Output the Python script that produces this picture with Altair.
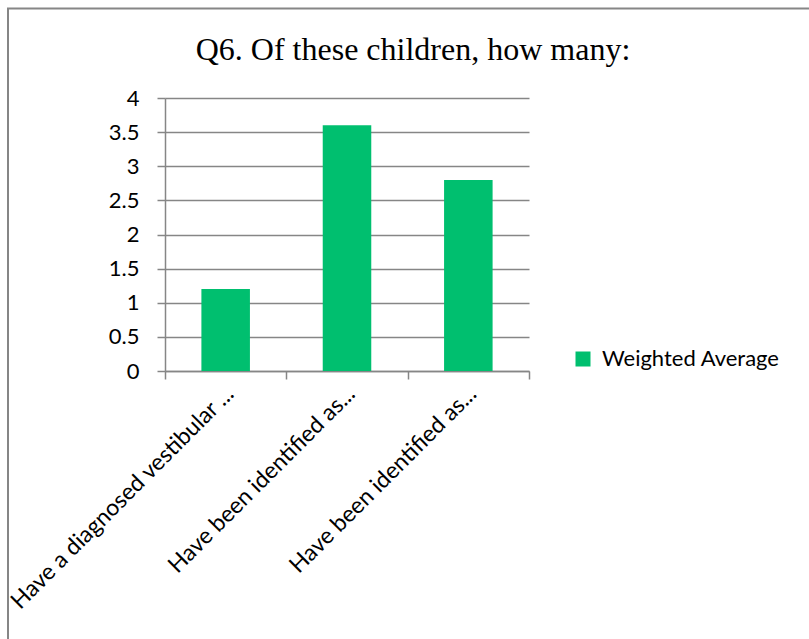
import json

import altair as alt
import pandas as pd

# Survey item labels (two items share the same truncated label)
items = [
    "Have a diagnosed vestibular ...",
    "Have been identified as...",
    "Have been identified as...",
]
weighted_avg = [1.2, 3.6, 2.8]
series_name = "Weighted Average"
y_ticks = [0, 0.5, 1, 1.5, 2, 2.5, 3, 3.5, 4]
title_text = "Q6. Of these children, how many:"

df = pd.DataFrame(
    {
        "idx": list(range(len(items))),
        "value": weighted_avg,
        "series": [series_name] * len(items),
    }
)

# Ordinal positions are labelled by looking up the item text
label_expr = json.dumps(items) + "[datum.value]"

GREEN = "#00BF6F"
GRID = "#868686"
SANS = "Lato"
SERIF = "Liberation Serif"

W, H = 364, 273
LEFT, TOP = 165, 98
TOTAL_W, TOTAL_H = 809, 639

bars = (
    alt.Chart(df)
    .mark_bar(width=alt.RelativeBandSize(0.4))
    .encode(
        x=alt.X(
            "idx:O",
            title=None,
            scale=alt.Scale(paddingInner=0, paddingOuter=0),
            axis=alt.Axis(
                labelExpr=label_expr,
                labelAngle=-45,
                labelAlign="right",
                labelBaseline="middle",
                labelFont=SANS,
                labelFontSize=23,
                labelColor="black",
                labelPadding=11,
                labelOffset=4,
                labelLimit=500,
                tickBand="extent",
                tickSize=8,
                tickColor=GRID,
                tickWidth=1.5,
                domainColor=GRID,
                domainWidth=1.5,
            ),
        ),
        y=alt.Y(
            "value:Q",
            title=None,
            scale=alt.Scale(domain=[0, 4], nice=False),
            axis=alt.Axis(
                values=y_ticks,
                format="~g",
                labelFont=SANS,
                labelFontSize=22,
                labelColor="black",
                labelPadding=18,
                tickSize=8,
                tickColor=GRID,
                tickWidth=1.5,
                domainColor=GRID,
                domainWidth=1.5,
                grid=True,
                gridColor=GRID,
                gridWidth=1.5,
            ),
        ),
        color=alt.Color(
            "series:N",
            scale=alt.Scale(range=[GREEN]),
            legend=alt.Legend(
                title=None,
                orient="none",
                legendX=407,
                legendY=250,
                symbolType="square",
                symbolSize=225,
                symbolStrokeWidth=0,
                symbolOpacity=1,
                labelFont=SANS,
                labelFontSize=22,
                labelColor="black",
                labelOffset=8,
                labelLimit=400,
            ),
        ),
    )
)

# Thin grey frame around the chart area
frame = (
    alt.Chart(alt.Data(values=[{}]))
    .mark_rect(fill="transparent", stroke=GRID, strokeWidth=2)
    .encode(
        x=alt.value(8 - LEFT),
        x2=alt.value(TOTAL_W + 50),
        y=alt.value(8.5 - TOP),
        y2=alt.value(TOTAL_H + 50),
    )
)

# Chart heading, set in a serif face above the plot
heading = (
    alt.Chart(alt.Data(values=[{"t": title_text}]))
    .mark_text(
        font=SERIF,
        fontSize=32,
        color="black",
        align="center",
        baseline="alphabetic",
    )
    .encode(
        text="t:N",
        x=alt.value(413 - LEFT),
        y=alt.value(60 - TOP),
    )
)

chart = (
    alt.layer(frame, bars, heading)
    .properties(
        width=W,
        height=H,
        autosize=alt.AutoSizeParams(type="none"),
        padding={
            "left": LEFT,
            "top": TOP,
            "right": TOTAL_W - LEFT - W,
            "bottom": TOTAL_H - TOP - H,
        },
        background="white",
    )
    .configure_view(stroke=None)
)

chart.save("out.html", embed_options={"renderer": "svg", "actions": False})
